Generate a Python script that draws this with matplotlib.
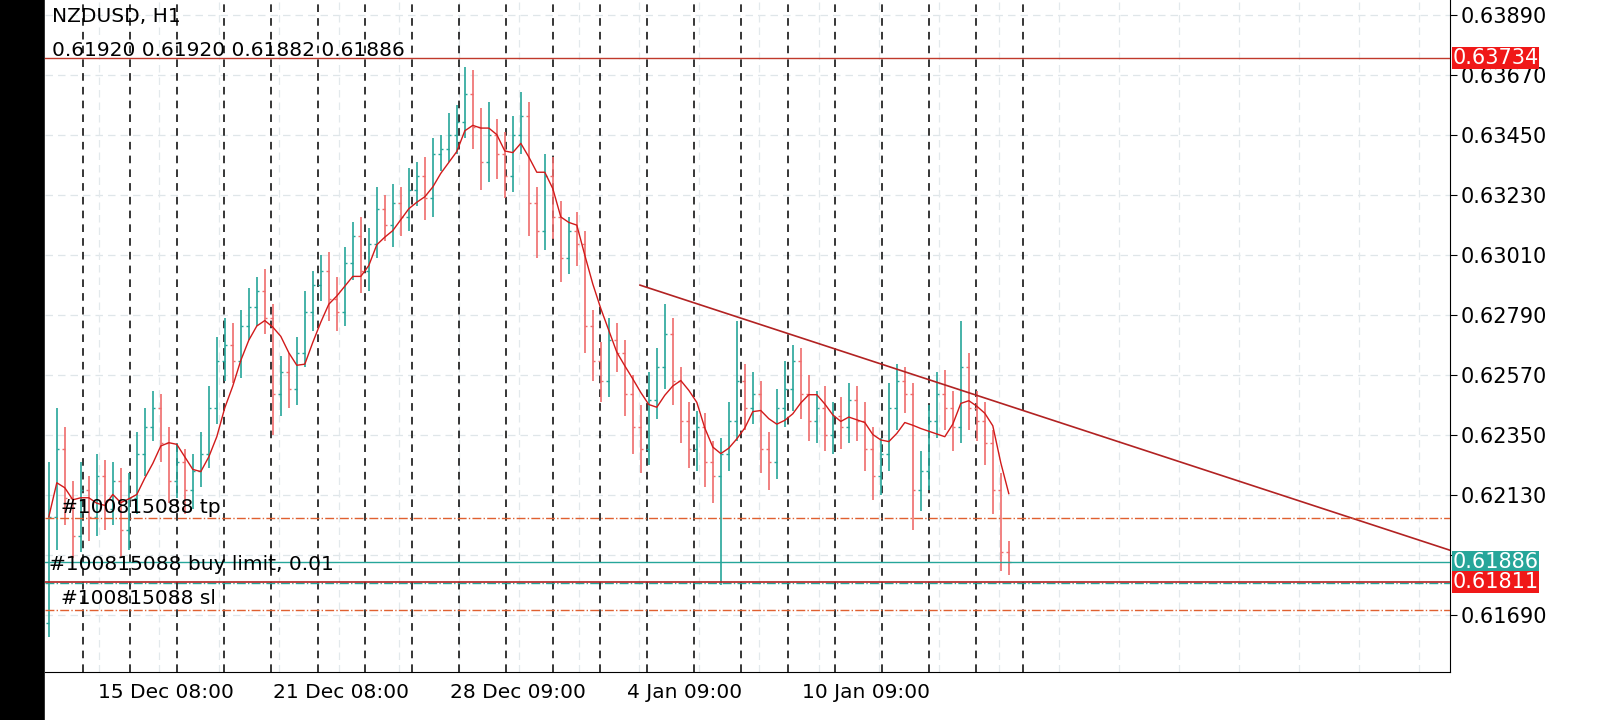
import matplotlib
matplotlib.use("Agg")
import matplotlib.pyplot as plt
import numpy as np
import pandas as pd
from matplotlib.patches import FancyBboxPatch

# 3-hour bars, NZDUSD
first_open = 0.6166
closes = [
    0.6205, 0.6230, 0.6212, 0.6198, 0.6215, 0.6205, 0.6220, 0.6208, 0.6218, 0.6200,
    0.6212, 0.6228, 0.6238, 0.6245, 0.6232, 0.6218, 0.6225, 0.6215, 0.6222, 0.6228,
    0.6245, 0.6262, 0.6268, 0.6262, 0.6275, 0.6282, 0.6288, 0.6278, 0.6250, 0.6258,
    0.6252, 0.6265, 0.6280, 0.6290, 0.6295, 0.6285, 0.6280, 0.6298, 0.6308, 0.6295,
    0.6305, 0.6318, 0.6312, 0.6320, 0.6315, 0.6325, 0.6330, 0.6322, 0.6338, 0.6340,
    0.6345, 0.6350, 0.6360, 0.6348, 0.6335, 0.6345, 0.6338, 0.6330, 0.6345, 0.6352,
    0.6320, 0.6310, 0.6330, 0.6315, 0.6300, 0.6310, 0.6305, 0.6275, 0.6262, 0.6255,
    0.6270, 0.6265, 0.6250, 0.6238, 0.6230, 0.6248, 0.6260, 0.6272, 0.6255, 0.6240,
    0.6230, 0.6238, 0.6225, 0.6220, 0.6228, 0.6240, 0.6255, 0.6245, 0.6250, 0.6230,
    0.6225, 0.6245, 0.6252, 0.6262, 0.6250, 0.6240, 0.6245, 0.6235, 0.6242, 0.6238,
    0.6248, 0.6240, 0.6230, 0.6220, 0.6228, 0.6245, 0.6255, 0.6250, 0.6215, 0.6222,
    0.6240, 0.6250, 0.6245, 0.6238, 0.6260, 0.6245, 0.6240, 0.6232, 0.6215, 0.6192,
    0.61886,
]
# wicks in pips above max(open, close) and below min(open, close)
wick_up = [
    20, 15, 8, 6, 10, 5, 8, 6, 7, 5,
    9, 8, 7, 6, 5, 6, 7, 5, 6, 8,
    8, 9, 10, 8, 6, 7, 5, 8, 5, 6,
    7, 6, 8, 5, 6, 7, 8, 6, 5, 7,
    6, 8, 5, 7, 6, 8, 5, 7, 6, 5,
    8, 6, 10, 9, 7, 12, 6, 8, 7, 9,
    5, 6, 8, 7, 6, 5, 7, 5, 6, 7,
    8, 6, 5, 7, 8, 10, 7, 11, 6, 5,
    7, 6, 5, 8, 6, 7, 22, 6, 8, 5,
    6, 7, 10, 6, 5, 7, 6, 8, 5, 7,
    6, 5, 7, 8, 6, 9, 6, 5, 4, 7,
    6, 8, 9, 6, 17, 5, 6, 7, 5, 6,
    4,
]
wick_dn = [
    5, 12, 10, 8, 6, 9, 7, 8, 6, 10,
    7, 6, 8, 5, 7, 8, 6, 9, 7, 6,
    5, 6, 7, 8, 6, 5, 7, 6, 15, 8,
    7, 6, 5, 7, 6, 8, 7, 5, 6, 8,
    7, 5, 6, 8, 7, 5, 6, 8, 7, 6,
    5, 7, 6, 8, 10, 7, 9, 8, 6, 7,
    12, 10, 7, 8, 9, 6, 8, 10, 7, 8,
    6, 7, 8, 10, 9, 6, 7, 8, 9, 8,
    7, 8, 9, 10, 40, 6, 7, 8, 6, 9,
    10, 6, 7, 8, 9, 7, 8, 6, 7, 8,
    6, 7, 8, 9, 7, 6, 8, 7, 15, 8,
    7, 6, 8, 9, 6, 8, 7, 8, 9, 7,
    5,
]

y_ticks = [0.63890, 0.63670, 0.63450, 0.63230, 0.63010, 0.62790,
           0.62570, 0.62350, 0.62130, 0.61910, 0.61690]
hidden_tick = 0.61910  # covered by the bid label
date_pos = [6.1, 28.0, 50.1, 72.25, 94.1]
date_labels = ["15 Dec 08:00", "21 Dec 08:00", "28 Dec 09:00", "4 Jan 09:00", "10 Jan 09:00"]
sep_first, sep_step, sep_count = 4.25, 5.875, 21

tp_price = 0.62046
buy_price = 0.61886
entry_price = 0.61811
sl_price = 0.61710
top_price = 0.63734
trend_x = [73.9, 175.1]
trend_y = [0.62900, 0.61928]

closes = np.array(closes)
opens = np.concatenate([[first_open], closes[:-1]])
highs = np.maximum(opens, closes) + np.array(wick_up) * 1e-4
lows = np.minimum(opens, closes) - np.array(wick_dn) * 1e-4
x = np.arange(len(closes))
ma = pd.Series(closes).rolling(5, min_periods=1).mean()

fig = plt.figure(figsize=(16, 7.2), dpi=100)
fig.patch.set_facecolor("black")
bg = FancyBboxPatch((0.028, -0.05), 1.1, 1.1, boxstyle="round,pad=0,rounding_size=0.03",
                    transform=fig.transFigure, facecolor="white", edgecolor="none", zorder=-5)
fig.patches.append(bg)
ax = fig.add_axes([0.028, 0.0667, 0.878, 0.933])
ax.set_zorder(1)
ax.set_facecolor("white")
ax.set_xlim(-0.5, 175.1)
ax.set_ylim(0.61481, 0.63945)

for p in y_ticks:
    ax.axhline(p, color="#dfe6e9", lw=0.9, ls=(0, (6, 4)), zorder=0)
for gx in np.arange(171.25, 0, -7.5):
    ax.axvline(gx, color="#e3e9ec", lw=0.9, ls=(0, (6, 4)), zorder=0)
for k in range(sep_count):
    ax.axvline(sep_first + k * sep_step, color="black", lw=1.1, ls=(0, (5, 4)), zorder=1)

up = closes >= opens
colors = np.where(up, "#26a69a", "#ef6c6c")
ax.vlines(x, lows, highs, colors=colors, lw=1.2, zorder=2)
ax.hlines(opens, x - 0.3, x, colors=colors, lw=1.0, zorder=2)
ax.hlines(closes, x, x + 0.3, colors=colors, lw=1.0, zorder=2)
ax.plot(x, ma, color="#d11a1a", lw=1.0, zorder=3)

ax.plot(trend_x, trend_y, color="#b22222", lw=1.2, zorder=3)
ax.axhline(top_price, color="#c0392b", lw=1.0, zorder=3)
ax.axhline(tp_price, color="#e06030", lw=1.0, ls="-.", zorder=3)
ax.axhline(sl_price, color="#e06030", lw=1.0, ls="-.", zorder=3)
ax.axhline(entry_price - 0.00002, color="#26a69a", lw=1.0, ls="-.", zorder=3)
ax.axhline(buy_price, color="#26a69a", lw=1.0, zorder=3)
ax.axhline(entry_price, color="#b22222", lw=1.2, zorder=3)

ax.yaxis.tick_right()
ax.set_yticks(y_ticks)
ax.set_yticklabels(["" if p == hidden_tick else f"{p:.5f}" for p in y_ticks], fontsize=15)
ax.set_xticks(date_pos)
ax.set_xticklabels(date_labels, fontsize=14.5, ha="left")
ax.tick_params(axis="x", length=0, pad=8)
ax.tick_params(axis="y", length=5, pad=3)
for s in ("top", "left"):
    ax.spines[s].set_visible(False)

for price, fc in [(top_price, "#f01818"), (buy_price, "#26a69a"), (entry_price, "#f01818")]:
    ax.text(1.002, price, f"{price:.5f}", transform=ax.get_yaxis_transform(), fontsize=15,
            color="white", va="center", ha="left",
            bbox=dict(boxstyle="square,pad=0.04", fc=fc, ec="none"), zorder=5)

ax.text(0.005, 0.99, "NZDUSD, H1", transform=ax.transAxes, fontsize=14.5, va="top")
ax.text(0.005, 0.94, "0.61920 0.61920 0.61882 0.61886", transform=ax.transAxes, fontsize=14.5, va="top")
ax.text(1.5, tp_price + 0.00005, "#100815088 tp", fontsize=14.5, va="bottom")
ax.text(0.0, buy_price - 0.0001, "#100815088 buy limit, 0.01", fontsize=14.5, va="center")
ax.text(1.5, sl_price + 0.00005, "#100815088 sl", fontsize=14.5, va="bottom")

fig.savefig("out.png", dpi=100, facecolor=fig.get_facecolor())
